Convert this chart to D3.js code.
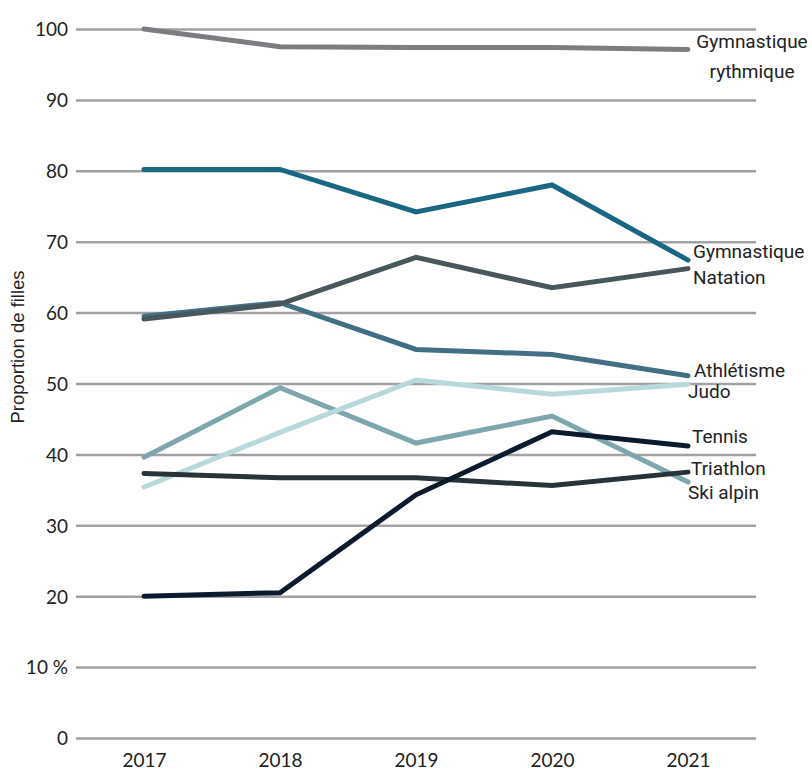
<!DOCTYPE html>
<html>
<head>
<meta charset="utf-8">
<script src="https://cdn.jsdelivr.net/npm/d3@7"></script>
<style>
  body { margin: 0; background: #fff; }
  .tick text { font-family: Lato, sans-serif; font-size: 19px; fill: #222; }
  .lbl { font-family: Roboto, sans-serif; font-size: 19px; fill: #222; }
</style>
</head>
<body>
<div id="vis"></div>
<script>
// years on the x axis
var years = ["2017", "2018", "2019", "2020", "2021"];
var yTicks = [0, 10, 20, 30, 40, 50, 60, 70, 80, 90, 100];

// share of girls per sport
var gymRythmique = [100, 97.5, 97.4, 97.4, 97.1];
var gymnastique = [80.2, 80.2, 74.2, 78.0, 67.4];
var natation = [59.1, 61.2, 67.8, 63.5, 66.2];
var athletisme = [59.5, 61.4, 54.8, 54.1, 51.1];
var judo = [35.4, 43.1, 50.5, 48.5, 49.9];
var skiAlpin = [39.6, 49.4, 41.6, 45.4, 36.1];
var triathlon = [37.3, 36.7, 36.7, 35.6, 37.5];
var tennis = [20.0, 20.5, 34.3, 43.2, 41.2];

var series = [
  {name: "Gymnastique rythmique", values: gymRythmique, colour: "#7c7c81"},
  {name: "Gymnastique", values: gymnastique, colour: "#1a6784"},
  {name: "Athlétisme", values: athletisme, colour: "#426f83"},
  {name: "Natation", values: natation, colour: "#47575c"},
  {name: "Ski alpin", values: skiAlpin, colour: "#7ea6ad"},
  {name: "Judo", values: judo, colour: "#b7d9dc"},
  {name: "Triathlon", values: triathlon, colour: "#263439"},
  {name: "Tennis", values: tennis, colour: "#0b1a2c"}
];

// end label placement
var labels = [
  {lines: ["Gymnastique", "rythmique"], x: 752, y: 48, anchor: "middle"},
  {lines: ["Gymnastique"], x: 693, y: 258},
  {lines: ["Natation"], x: 693, y: 284},
  {lines: ["Athlétisme"], x: 694, y: 377},
  {lines: ["Judo"], x: 688, y: 398},
  {lines: ["Tennis"], x: 692, y: 443},
  {lines: ["Triathlon"], x: 691, y: 475},
  {lines: ["Ski alpin"], x: 688, y: 499}
];

var width = 812;
var height = 771;

var margin = {
    top: 29,
    bottom: 33,
    left: 76,
    right: 56
}

var svg = d3.select('#vis')
    .append('svg')
    .attr('width', width)
    .attr('height', height);

var g = svg.append('g')
    .attr('transform', 'translate(' + margin.left + ',' + margin.top + ')');

var w = width - margin.left - margin.right;
var h = height - margin.top - margin.bottom;

var x_scale = d3.scalePoint()
    .domain(years)
    .range([0, w])
    .padding(0.5);

var y_scale = d3.scaleLinear()
    .domain([0, 100])
    .range([h, 0]);

// gridlines
var y_axis = d3.axisLeft(y_scale)
    .tickValues(yTicks)
    .tickSize(-w)
    .tickPadding(8)
    .tickFormat(function(d) { return d == 10 ? "10 %" : d; });

g.append('g')
    .attr('class', 'y axis')
    .call(y_axis)
    .call(function(s) {
        s.select('.domain').remove();
        s.selectAll('.tick line').attr('stroke', '#a2a2a6').attr('stroke-width', 2.5);
        s.selectAll('.tick text').attr('dy', '0.36em');
    });

var x_axis = d3.axisBottom(x_scale).tickSize(0).tickPadding(0);

g.append('g')
    .attr('class', 'x axis')
    .attr('transform', 'translate(0,' + h + ')')
    .call(x_axis)
    .call(function(s) {
        s.select('.domain').remove();
        s.selectAll('.tick text').attr('y', 29).attr('dy', 0);
    });

var line = d3.line()
    .x(function(d, i) { return x_scale(years[i]); })
    .y(function(d) { return y_scale(d); });

g.selectAll('.series')
    .data(series)
    .enter()
    .append('path')
    .attr('class', 'series')
    .attr('d', function(d) { return line(d.values); })
    .attr('fill', 'none')
    .attr('stroke', function(d) { return d.colour; })
    .attr('stroke-width', 5)
    .attr('stroke-linecap', 'round')
    .attr('stroke-linejoin', 'miter');

// end labels
labels.forEach(function(l) {
    var t = svg.append('text')
        .attr('class', 'lbl')
        .attr('x', l.x)
        .attr('y', l.y)
        .style('text-anchor', l.anchor || 'start');
    l.lines.forEach(function(s, i) {
        t.append('tspan').attr('x', l.x).attr('dy', i == 0 ? 0 : 30).text(s);
    });
});

// y axis title
svg.append("text")
    .attr("transform", "rotate(-90)")
    .attr("x", -347)
    .attr("y", 24)
    .style("text-anchor", "middle")
    .style("font-family", "'Liberation Sans', Arial, sans-serif")
    .style("font-size", "18.5px")
    .style("fill", "#222")
    .text("Proportion de filles");
</script>
</body>
</html>
